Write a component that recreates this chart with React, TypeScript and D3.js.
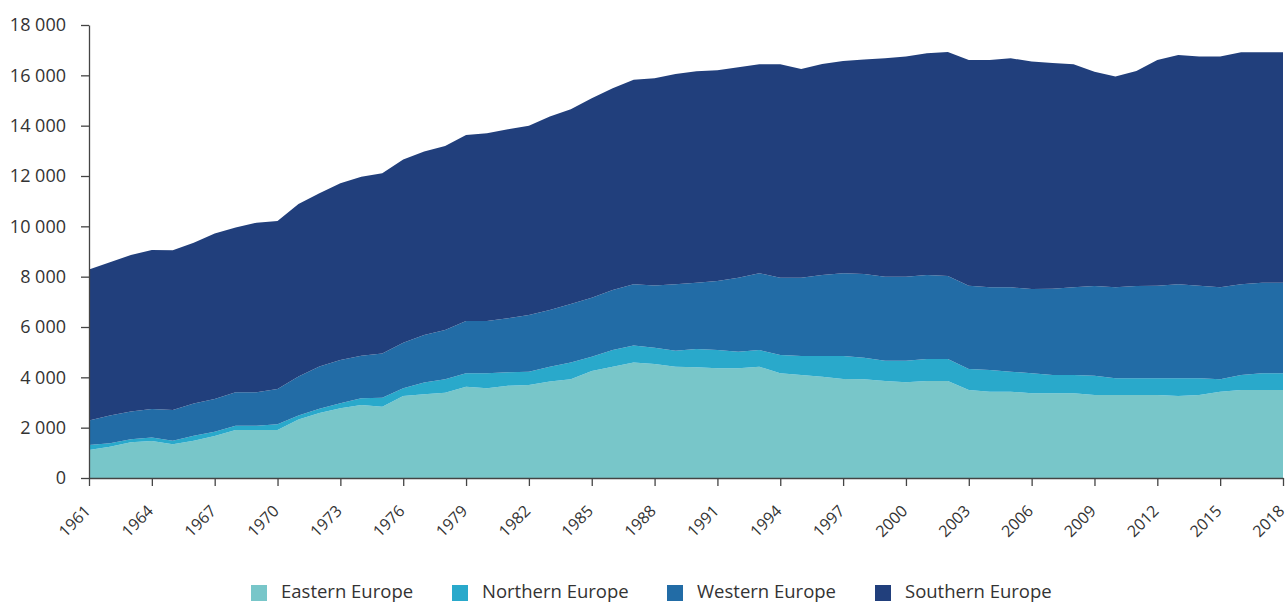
import * as d3 from 'd3';
import React, { useEffect, useRef } from 'react';

const years = d3.range(1961, 2019);

const eastern = [
  1110, 1245, 1420, 1470, 1340, 1480, 1670, 1910, 1910, 1910,
  2320, 2580, 2770, 2900, 2835, 3260, 3325, 3390, 3630, 3565,
  3670, 3695, 3830, 3920, 4250, 4425, 4585, 4530, 4425, 4400,
  4360, 4360, 4425, 4160, 4095, 4025, 3935, 3920, 3855, 3800,
  3855, 3855, 3500, 3430, 3430, 3365, 3365, 3365, 3300, 3300,
  3300, 3300, 3260, 3300, 3430, 3500, 3500, 3500,
];
const northern = [
  200, 135, 120, 135, 145, 200, 170, 170, 170, 225,
  160, 170, 200, 265, 355, 305, 465, 530, 530, 595,
  530, 530, 595, 665, 570, 660, 675, 650, 635, 725,
  725, 660, 660, 730, 755, 825, 915, 860, 805, 860,
  875, 870, 830, 860, 795, 795, 730, 730, 765, 660,
  660, 660, 700, 660, 490, 595, 660, 660,
];
const western = [
  970, 1100, 1100, 1140, 1220, 1285, 1300, 1325, 1325, 1405,
  1550, 1680, 1720, 1695, 1760, 1810, 1895, 1960, 2080, 2080,
  2145, 2250, 2250, 2330, 2345, 2385, 2440, 2465, 2640, 2635,
  2740, 2940, 3050, 3070, 3110, 3220, 3285, 3325, 3340, 3340,
  3340, 3300, 3310, 3285, 3350, 3350, 3420, 3485, 3565, 3615,
  3670, 3680, 3735, 3680, 3655, 3605, 3600, 3600,
];
const southern = [
  6000, 6090, 6220, 6315, 6345, 6385, 6580, 6545, 6740, 6670,
  6860, 6880, 7020, 7115, 7155, 7285, 7285, 7310, 7390, 7460,
  7510, 7525, 7685, 7735, 7925, 8015, 8120, 8240, 8355, 8400,
  8375, 8360, 8305, 8480, 8295, 8385, 8435, 8520, 8680, 8745,
  8810, 8900, 8970, 9035, 9105, 9035, 8980, 8860, 8515, 8375,
  8545, 8970, 9115, 9105, 9170, 9220, 9160, 9160,
];

const seriesNames = ['Eastern Europe', 'Northern Europe', 'Western Europe', 'Southern Europe'];
const seriesValues = [eastern, northern, western, southern];
const colors = ['#78c6c9', '#29a9cb', '#226ca6', '#213f7c'];
const yTicks = d3.range(0, 18001, 2000);
const xTicks = d3.range(1961, 2019, 3);

const width = 1288;
const height = 603;
const margin = { top: 25, right: 5, bottom: 125, left: 89 };
const font = '"Open Sans", "Noto Sans", sans-serif';
const textColor = '#333';

const fmt = d3.formatLocale({
  decimal: '.',
  thousands: '\u00a0',
  grouping: [3],
  currency: ['', ''],
}).format(',');

export default function App() {
  const svgRef = useRef<SVGSVGElement>(null);

  useEffect(() => {
    const svg = d3.select(svgRef.current);

    const x = d3
      .scaleLinear()
      .domain([1961, 2018])
      .range([margin.left, width - margin.right]);
    const y = d3
      .scaleLinear()
      .domain([0, 18000])
      .range([height - margin.bottom, margin.top]);

    const table = years.map((yr, i) => {
      const row: any = { year: yr };
      seriesNames.forEach((n, k) => (row[n] = seriesValues[k][i]));
      return row;
    });

    const stacked = d3.stack().keys(seriesNames)(table);

    const area = d3
      .area<any>()
      .x(d => x(d.data.year))
      .y0(d => y(d[0]))
      .y1(d => y(d[1]));

    svg
      .select('.areas')
      .selectAll('path')
      .data(stacked)
      .join('path')
      .attr('d', d => area(d))
      .attr('fill', (d, i) => colors[i]);

    const yAxis = d3
      .axisLeft(y)
      .tickValues(yTicks)
      .tickFormat(d => fmt(d as number))
      .tickSize(8)
      .tickSizeOuter(0)
      .tickPadding(15);

    const yg = svg
      .select('.yAxis')
      .attr('transform', `translate(${margin.left},0)`)
      .call(yAxis as any);
    yg.select('.domain').attr('stroke', '#444').attr('stroke-width', 1.3);
    yg.selectAll('.tick line').attr('stroke', '#444').attr('stroke-width', 1.3);
    yg.selectAll('.tick text')
      .attr('fill', textColor)
      .style('font-size', '18px')
      .style('font-family', font);

    const xAxis = d3
      .axisBottom(x)
      .tickValues(xTicks)
      .tickFormat(d => String(d))
      .tickSize(8)
      .tickSizeOuter(0);

    const xg = svg
      .select('.xAxis')
      .attr('transform', `translate(0,${height - margin.bottom})`)
      .call(xAxis as any);
    xg.select('.domain').attr('stroke', '#444').attr('stroke-width', 1.3);
    xg.selectAll('.tick line').attr('stroke', '#444').attr('stroke-width', 1.3);
    xg.selectAll('.tick text')
      .attr('fill', textColor)
      .attr('text-anchor', 'end')
      .attr('dy', '0')
      .attr('y', 0)
      .attr('transform', 'translate(2,34) rotate(-45)')
      .style('font-size', '16px')
      .style('font-family', font);
  }, []);

  const legendX = [251, 452, 667, 875];

  return (
    <svg
      ref={svgRef}
      width={width}
      height={height}
      style={{ position: 'absolute', left: 0, top: 0, background: '#fff' }}
    >
      <g className="areas" />
      <g className="yAxis" />
      <g className="xAxis" />
      <g className="legend" fontFamily={font} fontSize={18.5} fill={textColor}>
        {seriesNames.map((n, i) => (
          <g key={n} transform={`translate(${legendX[i]},585)`}>
            <rect width={16} height={16} fill={colors[i]} />
            <text x={30} y={13}>
              {n}
            </text>
          </g>
        ))}
      </g>
    </svg>
  );
}
